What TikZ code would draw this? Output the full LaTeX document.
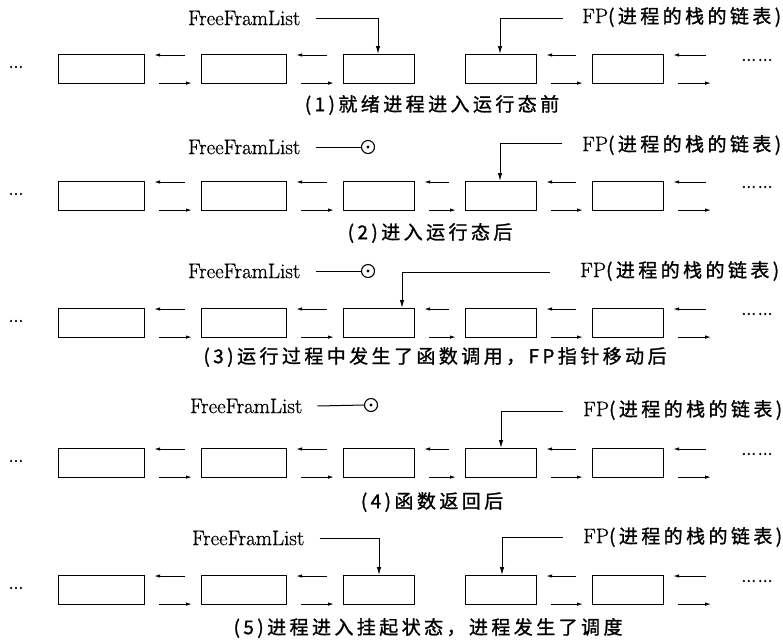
\documentclass[tikz,border=0pt]{standalone}
\usepackage{fontspec}
\newfontfamily\cjk[LetterSpace=18,FakeBold=1.2]{Noto Sans CJK SC}
\newfontfamily\dotf[LetterSpace=5,FakeBold=1.5]{Noto Sans CJK SC}
\newfontfamily\lmr[FakeBold=0.8]{Latin Modern Roman}
\usetikzlibrary{arrows.meta,calc}
\begin{document}
\begin{tikzpicture}[x=1pt,y=-1pt,
  bx/.style={draw, line width=1.1pt, anchor=north west, minimum height=29pt, inner sep=0pt},
  lnk/.style={line width=1pt, -{Latex[length=6pt,width=3.5pt]}},
  ptr/.style={line width=1pt, -{Latex[length=8pt,width=4.5pt]}},
  lbl/.style={font=\lmr\fontsize{21}{24}\selectfont, inner sep=0pt, anchor=west},
  captxt/.style={font=\cjk\fontsize{19}{22}\selectfont, inner sep=0pt},
  dotlbl/.style={font=\dotf\fontsize{15}{18}\selectfont, inner sep=0pt},
  nil/.style={circle, draw, line width=1.1pt, minimum size=13pt, inner sep=0pt},
  pline/.style={line width=1pt}]
\useasboundingbox (0,0) rectangle (783,643);

% boxes, links and dots for every row
\foreach \r/\t in {1/54,2/181,3/308,4/448,5/575}{
  \node[bx, minimum width=86pt] (r\r b1) at (58,\t) {};
  \node[bx, minimum width=85pt] (r\r b2) at (201,\t) {};
  \node[bx, minimum width=71pt] (r\r b3) at (343,\t) {};
  \node[bx, minimum width=71pt] (r\r b4) at (465,\t) {};
  \node[bx, minimum width=71pt] (r\r b5) at (592,\t) {};
  \node[dotlbl] (r\r l) at (16,\t+13) {...};
  \node[dotlbl] (r\r r) at (757,\t+6) {...\,...};
  \foreach \a/\b in {1/2,2/3,4/5}{
    \draw[lnk] ($(r\r b\b.north west)+(-16,1)$) -- ($(r\r b\a.north east)+(9,1)$);
    \draw[lnk] ($(r\r b\a.south east)+(14,-1)$) -- ($(r\r b\b.south west)+(-9,-1)$);
  }
  \coordinate (r\r eu) at ($(r\r b5.north east)+(42,1)$);
  \coordinate (r\r el) at ($(r\r b5.south east)+(47,-1)$);
  \draw[lnk] (r\r eu) -- ($(r\r b5.north east)+(9,1)$);
  \draw[lnk] ($(r\r b5.south east)+(14,-1)$) -- (r\r el);
}
\foreach \r in {2,3,4}{
  \draw[lnk] ($(r\r b4.north west)+(-16,1)$) -- ($(r\r b3.north east)+(9,1)$);
  \draw[lnk] ($(r\r b3.south east)+(14,-1)$) -- ($(r\r b4.south west)+(-9,-1)$);
}

% row 1
\node[lbl] (ff1) at (188,18) {FreeFramList};
\node[lbl] (fp1) at (582,17) {FP{\cjk\fontsize{19}{22}\selectfont (进程的栈的链表)}};
\coordinate (fs1) at (563,18);
\draw[ptr] ($(ff1.east)+(15,0)$) -| ([xshift=35pt]r1b3.north west);
\draw[ptr] (fs1) -| ([xshift=35pt]r1b4.north west);
\node[captxt] (cap1) at (432,105) {(1)就绪进程进入运行态前};

% row 2
\node[lbl] (ff2) at (188,147) {FreeFramList};
\node[nil] (c2) at (368,147) {};
\fill (c2.center) circle (1.7pt);
\draw[pline] ($(ff2.east)+(15,0)$) -- (c2.west);
\node[lbl] (fp2) at (582,145) {FP{\cjk\fontsize{19}{22}\selectfont (进程的栈的链表)}};
\coordinate (fs2) at (562,143);
\draw[ptr] (fs2) -| ([xshift=35pt]r2b4.north west);
\node[captxt] (cap2) at (430,233) {(2)进入运行态后};

% row 3
\node[lbl] (ff3) at (188,271) {FreeFramList};
\node[nil] (c3) at (368,271) {};
\fill (c3.center) circle (1.7pt);
\draw[pline] ($(ff3.east)+(15,0)$) -- (c3.west);
\node[lbl] (fp3) at (580,271) {FP{\cjk\fontsize{19}{22}\selectfont (进程的栈的链表)}};
\coordinate (fs3) at (550,272);
\draw[ptr] (fs3) -| ([xshift=59pt]r3b3.north west);
\node[captxt] (cap3) at (435,357) {(3)运行过程中发生了函数调用，FP指针移动后};

% row 4
\node[lbl] (ff4) at (190,406) {FreeFramList};
\node[nil] (c4) at (371,405) {};
\fill (c4.center) circle (1.7pt);
\draw[pline] ($(ff4.east)+(15,0)$) -- (c4.west);
\node[lbl] (fp4) at (583,410) {FP{\cjk\fontsize{19}{22}\selectfont (进程的栈的链表)}};
\coordinate (fs4) at (563,411);
\draw[ptr] (fs4) -| ([xshift=36pt]r4b4.north west);
\node[captxt] (cap4) at (432,502) {(4)函数返回后};

% row 5
\node[lbl] (ff5) at (192,538) {FreeFramList};
\node[lbl] (fp5) at (583,537) {FP{\cjk\fontsize{19}{22}\selectfont (进程的栈的链表)}};
\coordinate (fs5) at (563,537);
\draw[ptr] ($(ff5.east)+(15,0)$) -| ([xshift=36pt]r5b3.north west);
\draw[ptr] (fs5) -| ([xshift=37pt]r5b4.north west);
\node[captxt] (cap5) at (428,628) {(5)进程进入挂起状态，进程发生了调度};
\end{tikzpicture}
\end{document}
